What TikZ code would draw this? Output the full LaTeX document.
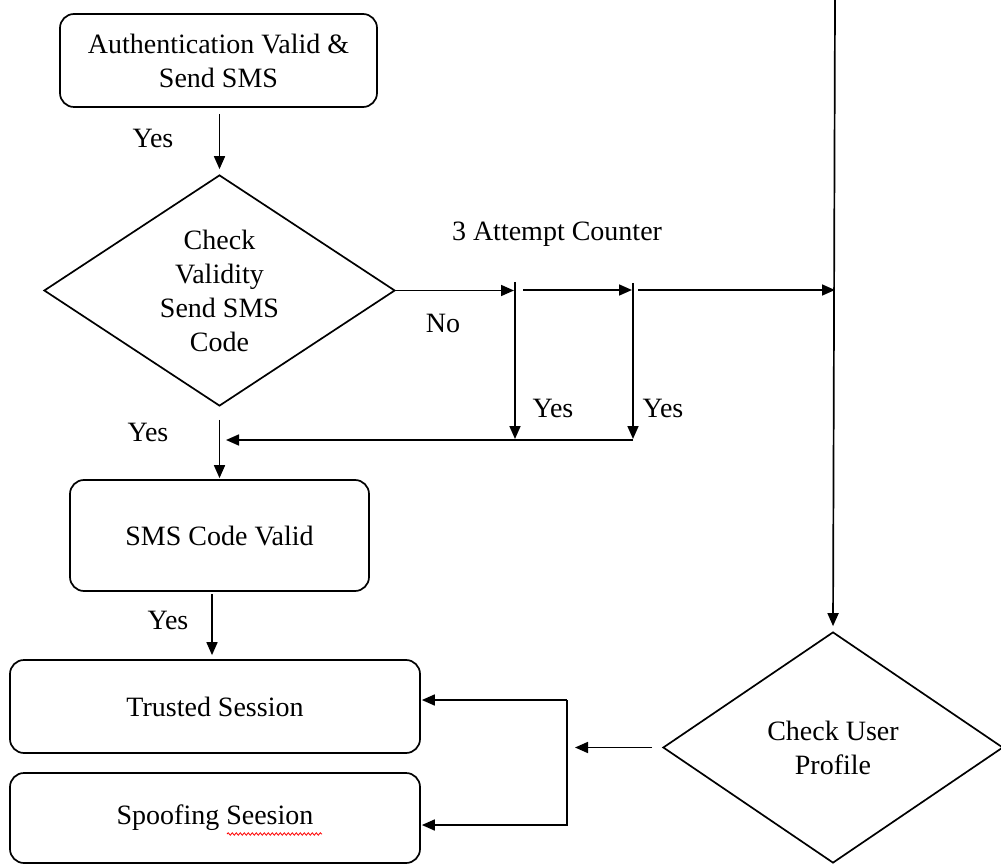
\documentclass[tikz,border=0pt]{standalone}
\usepackage{fontspec}
\setmainfont{Liberation Serif}
\usetikzlibrary{shapes.geometric,arrows.meta,decorations.pathmorphing}

\begin{document}
\begin{tikzpicture}[x=1pt,y=-1pt,
  every node/.style={font=\fontsize{28}{34}\selectfont},
  box/.style={draw, line width=1.7pt, rounded corners=14pt, inner sep=0pt, align=center},
  decision/.style={draw, diamond, line width=1.7pt, inner sep=0pt, align=center, shape aspect=1.5},
  flow/.style={line width=1.7pt, -{Triangle[length=13pt,width=11pt]}},
  lbl/.style={inner sep=0pt}
]
\useasboundingbox (0,0) rectangle (1001,866);

% process boxes and decisions
\node[box, minimum width=317pt, minimum height=93pt] (auth) at (218.5,60.5) {Authentication Valid \&\\Send SMS};
\node[decision, minimum width=351pt, minimum height=231pt] (valid) at (219.5,290.5) {Check\\Validity\\Send SMS\\Code};
\node[box, minimum width=299pt, minimum height=111pt] (sms) at (219.5,535.5) {SMS Code Valid};
\node[box, minimum width=410pt, minimum height=93pt] (trusted) at (215,706.5) {Trusted Session};
\node[box, minimum width=410pt, minimum height=90pt] (spoof) at (215,818) {Spoofing Seesion};
\node[decision, minimum width=340pt, minimum height=231pt] (profile) at (833,747.5) {Check User\\Profile};

% junction points of the attempt counter and side lines
\coordinate (k1top) at (515,282);
\coordinate (k1bot) at (515,440);
\coordinate (k2top) at (633,283);
\coordinate (k2bot) at (633,440);
\coordinate (s2) at (523,290);
\coordinate (s3) at (638,290);
\coordinate (main) at (835,0);
\coordinate (retEnd) at (226,440);
\coordinate (a5) at (212,594);
\coordinate (brk) at (567,700);
\coordinate (brkLow) at (567,825);

% connectors
\draw[flow, shorten <=6pt, shorten >=5pt] (auth.south -| valid.north) -- (valid.north);
\draw[flow, shorten >=1pt] (valid.east) -- (k1top |- valid.east);
\draw[flow, shorten >=1pt] (s2) -- (k2top |- s2);
\draw[flow] (s3) -- (main |- s3);
\draw[flow, shorten >=5pt] (main) -- (profile.north);
\draw[flow, shorten >=1pt] (k1top) -- (k1bot);
\draw[flow, shorten >=1pt] (k2top) -- (k2bot);
\draw[flow] (k2bot) -- (retEnd);
\draw[flow, shorten <=13pt, shorten >=1pt] (valid.south) -- (sms.north);
\draw[flow, shorten >=4pt] (a5) -- (a5 |- trusted.north);
\draw[flow, shorten <=10pt, shorten >=8pt] (profile.west) -- (brk |- profile.west);
\draw[flow, shorten >=1pt] (brk) -- (trusted.east |- brk);
\draw[flow, shorten >=1pt] (brk) -- (brkLow) -- (spoof.east |- brkLow);

% labels
\node[lbl] (y1) at (153,138) {Yes};
\node[lbl] (cnt) at (557,234) {3 Attempt Counter};
\node[lbl] (no) at (443,323) {No};
\node[lbl] (y2) at (553,408) {Yes};
\node[lbl] (y3) at (663,408) {Yes};
\node[lbl] (y4) at (148,432) {Yes};
\node[lbl] (y5) at (168,620) {Yes};

% spell-check squiggle under the misspelt word
\coordinate (sq1) at (227,834);
\coordinate (sq2) at (322,834);
\draw[red, line width=0.8pt, decorate, decoration={snake, amplitude=1.2pt, segment length=4pt}] (sq1) -- (sq2);
\end{tikzpicture}
\end{document}
